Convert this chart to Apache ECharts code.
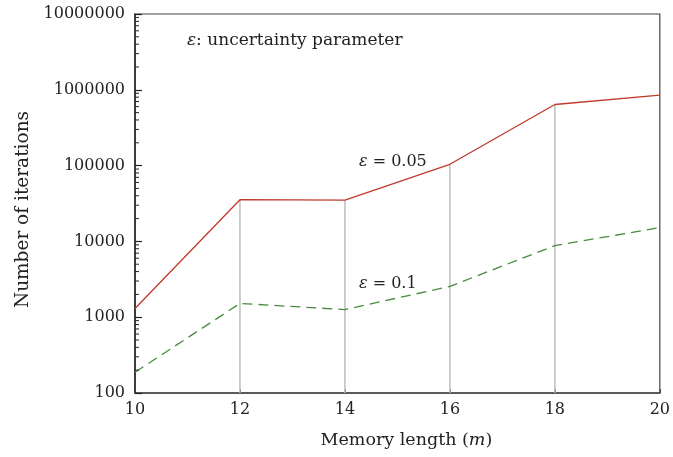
<!DOCTYPE html>
<html><head><meta charset="utf-8">
<script src="https://cdn.jsdelivr.net/npm/echarts@6/dist/echarts.min.js"></script>
<style>html,body{margin:0;padding:0;background:#fff}#c{width:673px;height:457px}</style>
</head><body><div id="c"></div>
<script>
var memoryLength = [10, 12, 14, 16, 18, 20];
var eps005 = [1300, 35500, 35000, 104000, 640000, 850000];
var eps01 = [188, 1520, 1260, 2550, 8800, 15200];
var xTicks = [10, 12, 14, 16, 18, 20];
var yDecades = [100, 1000, 10000, 100000, 1000000, 10000000];
var minorMultipliers = [2, 3, 4, 5, 6, 7, 8, 9];

var FONT = 'DejaVu Serif';
var FS = 16;
var chart = echarts.init(document.getElementById('c'));

var minorTickValues = [];
for (var d = 0; d < yDecades.length - 1; d++) {
  for (var k = 0; k < minorMultipliers.length; k++) minorTickValues.push([10, yDecades[d] * minorMultipliers[k]]);
}

var verticalLines = [];
for (var i = 1; i < memoryLength.length - 1; i++) verticalLines.push([memoryLength[i], eps005[i]]);

var txt = { fontFamily: FONT, fontSize: 17, fill: '#222' };
var txtI = { fontFamily: FONT, fontSize: 17, fontStyle: 'italic', fill: '#222' };
var txtS = { fontFamily: FONT, fontSize: 16, fill: '#222' };
var txtSI = { fontFamily: FONT, fontSize: 16, fontStyle: 'italic', fill: '#222' };

chart.setOption({
  animation: false,
  grid: { left: 135, right: 10, top: 14, bottom: 64, show: true, borderColor: '#444', borderWidth: 1.2, backgroundColor: 'transparent' },
  xAxis: {
    type: 'value', min: 10, max: 20, interval: 2,
    name: '{n|Memory length (}{i|m}{n|)}', nameLocation: 'middle', nameGap: 38,
    nameTextStyle: { padding: [0, 0, 0, 18], rich: { n: { fontFamily: FONT, fontSize: 17.5, color: '#222' }, i: { fontFamily: FONT, fontSize: 17.5, fontStyle: 'italic', color: '#222' } } },
    axisLine: { lineStyle: { color: '#444', width: 1.5 } },
    axisTick: { inside: true, length: 4, lineStyle: { color: '#444' } },
    axisLabel: { fontFamily: FONT, fontSize: FS, color: '#222', margin: 9 },
    splitLine: { show: false }
  },
  yAxis: {
    type: 'log', logBase: 10, min: 100, max: 10000000,
    name: 'Number of iterations', nameLocation: 'middle', nameGap: 102, nameRotate: 90,
    nameTextStyle: { fontFamily: FONT, fontSize: 18.5, color: '#222', padding: [0, 12, 0, 0] },
    axisLine: { lineStyle: { color: '#222', width: 1.5 } },
    axisTick: { inside: true, length: 7, lineStyle: { color: '#222', width: 1.2 } },
    axisLabel: { fontFamily: FONT, fontSize: FS, color: '#222', margin: 10, formatter: function (v) { return String(Math.round(v)); } },
    splitLine: { show: false }
  },
  graphic: [
    { type: 'text', left: 187, top: 32, style: { text: '{i|ε}{n|: uncertainty parameter}', rich: { i: txtI, n: txt } } },
    { type: 'text', left: 359, top: 154, style: { text: '{i|ε}{n| = 0.05}', rich: { i: txtSI, n: txtS } } },
    { type: 'text', left: 359, top: 276, style: { text: '{i|ε}{n| = 0.1}', rich: { i: txtSI, n: txtS } } }
  ],
  series: [
    {
      type: 'custom', silent: true, z: 1,
      data: verticalLines,
      renderItem: function (params, api) {
        var top = api.coord([api.value(0), api.value(1)]);
        var bot = api.coord([api.value(0), 100]);
        return { type: 'line', shape: { x1: top[0], y1: top[1], x2: bot[0], y2: bot[1] }, style: { stroke: '#bdbdbd', lineWidth: 1.5 } };
      }
    },
    {
      type: 'custom', silent: true, z: 3,
      data: minorTickValues,
      renderItem: function (params, api) {
        var p = api.coord([api.value(0), api.value(1)]);
        return { type: 'line', shape: { x1: p[0], y1: p[1], x2: p[0] + 4, y2: p[1] }, style: { stroke: '#222', lineWidth: 1 } };
      }
    },
    {
      type: 'line', z: 2,
      data: memoryLength.map(function (x, i) { return [x, eps005[i]]; }),
      showSymbol: false, symbol: 'none',
      lineStyle: { color: '#c0392b', width: 1.3 }
    },
    {
      type: 'line', z: 2,
      data: memoryLength.map(function (x, i) { return [x, eps01[i]]; }),
      showSymbol: false, symbol: 'none',
      lineStyle: { color: '#4a8a40', width: 1.3, type: [10, 6] }
    }
  ]
});
</script></body></html>
